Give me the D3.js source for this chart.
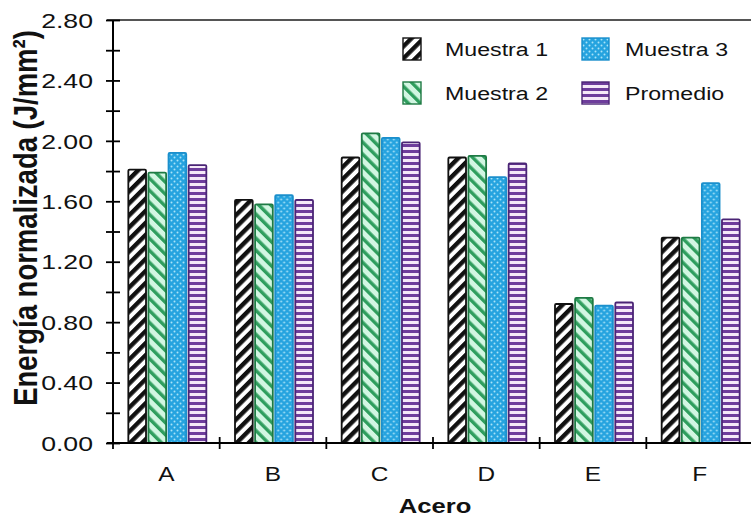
<!DOCTYPE html>
<html>
<head>
<meta charset="utf-8">
<script src="https://cdn.jsdelivr.net/npm/d3@7"></script>
<style>
  body { margin: 0; background: #fff; }
  svg { display: block; font-family: "Liberation Sans", Arial, sans-serif; }
</style>
</head>
<body>
<svg id="chart" width="751" height="518"></svg>
<script>
// ---- data ----
const categories = ["A", "B", "C", "D", "E", "F"];
const seriesNames = ["Muestra 1", "Muestra 2", "Muestra 3", "Promedio"];
const muestra1 = [1.81, 1.61, 1.89, 1.89, 0.92, 1.36];
const muestra2 = [1.79, 1.58, 2.05, 1.90, 0.96, 1.36];
const muestra3 = [1.92, 1.64, 2.02, 1.76, 0.91, 1.72];
const promedio = [1.84, 1.61, 1.99, 1.85, 0.93, 1.48];
const yTickValues = [0, 0.2, 0.4, 0.6, 0.8, 1.0, 1.2, 1.4, 1.6, 1.8, 2.0, 2.2, 2.4, 2.6, 2.8];
const yLabelValues = [0, 0.4, 0.8, 1.2, 1.6, 2.0, 2.4, 2.8];
const yTitle = "Energía normalizada (J/mm²)";
const xTitle = "Acero";

const seriesValues = [muestra1, muestra2, muestra3, promedio];
const rows = categories.map((c, i) => ({
  cat: c,
  vals: seriesNames.map((s, k) => ({ key: s, k, v: seriesValues[k][i] }))
}));

// ---- layout ----
const W = 751, H = 518;
const plot = { left: 113, right: 753, top: 20, bottom: 443 };
const SX = 1.22;      // horizontal widening applied to text glyphs
const SX_TICK = 1.3;  // slightly wider numerals on the value axis

const svg = d3.select("#chart");
const defs = svg.append("defs");

// ---- fill patterns ----
function stripes(id, w, bg, fg, band, angle) {
  const p = defs.append("pattern").attr("id", id)
    .attr("patternUnits", "userSpaceOnUse")
    .attr("width", w).attr("height", w)
    .attr("patternTransform", `rotate(${angle})`);
  p.append("rect").attr("width", w).attr("height", w).attr("fill", bg);
  p.append("rect").attr("width", band).attr("height", w).attr("fill", fg);
}
stripes("pat-m1", 8.5, "#ffffff", "#111111", 4.4, 45);
stripes("pat-m2", 8.5, "#d2f6e2", "#2f9e5e", 3.4, -45);

const p3 = defs.append("pattern").attr("id", "pat-m3")
  .attr("patternUnits", "userSpaceOnUse").attr("width", 6).attr("height", 6);
p3.append("rect").attr("width", 6).attr("height", 6).attr("fill", "#25a3df");
p3.append("circle").attr("cx", 1.5).attr("cy", 1.5).attr("r", 1).attr("fill", "#a9e3f8");
p3.append("circle").attr("cx", 4.5).attr("cy", 4.5).attr("r", 1).attr("fill", "#a9e3f8");

const p4 = defs.append("pattern").attr("id", "pat-m4")
  .attr("patternUnits", "userSpaceOnUse").attr("width", 6).attr("height", 6);
p4.append("rect").attr("width", 6).attr("height", 6).attr("fill", "#f5e9f8");
p4.append("rect").attr("y", 0).attr("width", 6).attr("height", 3).attr("fill", "#6e3d9c");

const fills = d3.scaleOrdinal().domain(seriesNames)
  .range(["url(#pat-m1)", "url(#pat-m2)", "url(#pat-m3)", "url(#pat-m4)"]);
const strokes = d3.scaleOrdinal().domain(seriesNames)
  .range(["#111111", "#1e7a44", "#1b8fcc", "#4a2475"]);

// ---- scales ----
const x0 = d3.scaleBand().domain(categories).range([plot.left, plot.right]).padding(0);
const groupW = 78;
const x1 = d3.scaleBand().domain(seriesNames)
  .range([(x0.bandwidth() - groupW) / 2 + 1, (x0.bandwidth() + groupW) / 2 + 1])
  .paddingInner(0.12);
const y = d3.scaleLinear().domain([0, 2.8]).range([plot.bottom, plot.top]);

// ---- frame top line ----
svg.append("line")
  .attr("x1", 107).attr("x2", W).attr("y1", plot.top).attr("y2", plot.top)
  .attr("stroke", "#555").attr("stroke-width", 2);

// ---- bars ----
const groups = svg.append("g").selectAll("g").data(rows).join("g")
  .attr("transform", d => `translate(${x0(d.cat)},0)`);
groups.selectAll("rect").data(d => d.vals).join("rect")
  .attr("x", d => x1(d.key))
  .attr("y", d => y(d.v))
  .attr("width", x1.bandwidth())
  .attr("height", d => y(0) - y(d.v))
  .attr("rx", 1.2)
  .attr("fill", d => fills(d.key))
  .attr("stroke", d => strokes(d.key))
  .attr("stroke-width", 1.8);

// ---- y axis ----
const yAxis = svg.append("g").attr("transform", `translate(${plot.left},0)`)
  .call(d3.axisLeft(y).tickValues(yTickValues).tickSize(7).tickPadding(0)
    .tickFormat(d => yLabelValues.some(v => Math.abs(v - d) < 1e-9) ? d3.format(".2f")(d) : ""));
yAxis.select(".domain").attr("stroke", "#000").attr("stroke-width", 2)
  .attr("d", `M0,${plot.top}V${plot.bottom}`);
yAxis.selectAll(".tick line").attr("x1", 7).attr("x2", -7)
  .attr("stroke", "#000").attr("stroke-width", 1.8);
yAxis.selectAll(".tick text")
  .attr("font-size", 20.5).attr("fill", "#111")
  .attr("text-anchor", "end").attr("dy", "0.35em")
  .attr("x", null)
  .attr("transform", `translate(-20,0) scale(${SX_TICK},1)`);

// ---- x axis ----
const xAxis = svg.append("g").attr("transform", `translate(0,${plot.bottom})`)
  .call(d3.axisBottom(x0).tickSize(0).tickPadding(0));
xAxis.select(".domain").attr("stroke", "#000").attr("stroke-width", 2)
  .attr("d", `M107,0H${W}`);
xAxis.selectAll(".tick text")
  .attr("font-size", 20).attr("fill", "#111").attr("dy", null).attr("y", null)
  .attr("transform", `translate(0,38) scale(${SX},1)`);
// category boundary ticks crossing the axis
const bounds = categories.map(c => x0(c)).concat([x0(categories[categories.length - 1]) + x0.bandwidth()]);
xAxis.append("g").selectAll("line").data(bounds).join("line")
  .attr("x1", d => d).attr("x2", d => d).attr("y1", -6).attr("y2", 6)
  .attr("stroke", "#000").attr("stroke-width", 1.8);

// ---- axis titles ----
svg.append("text")
  .attr("transform", `translate(${(plot.left + 753) / 2 + 2},513) scale(${SX},1)`)
  .attr("text-anchor", "middle").attr("font-size", 21).attr("font-weight", "bold")
  .attr("fill", "#111").text(xTitle);

svg.append("text")
  .attr("transform", `translate(37,218) scale(${SX},1) rotate(-90)`)
  .attr("text-anchor", "middle").attr("font-size", 27.5).attr("font-weight", "bold")
  .attr("fill", "#111").text(yTitle);

// ---- legend ----
const legendItems = [
  { key: "Muestra 1", sx: 403, sw: 18, tx: 445, row: 0 },
  { key: "Muestra 2", sx: 403, sw: 18, tx: 445, row: 1 },
  { key: "Muestra 3", sx: 582, sw: 27, tx: 625, row: 0 },
  { key: "Promedio", sx: 582, sw: 27, tx: 625, row: 1 }
];
const legend = svg.append("g");
const li = legend.selectAll("g").data(legendItems).join("g")
  .attr("transform", d => `translate(0,${38 + d.row * 44})`);
li.append("rect")
  .attr("x", d => d.sx).attr("y", 0).attr("width", d => d.sw).attr("height", 22)
  .attr("fill", d => fills(d.key)).attr("stroke", d => strokes(d.key)).attr("stroke-width", 1.4);
li.append("text")
  .attr("transform", d => `translate(${d.tx},18) scale(${SX},1)`)
  .attr("font-size", 19).attr("fill", "#111").text(d => d.key);
</script>
</body>
</html>
